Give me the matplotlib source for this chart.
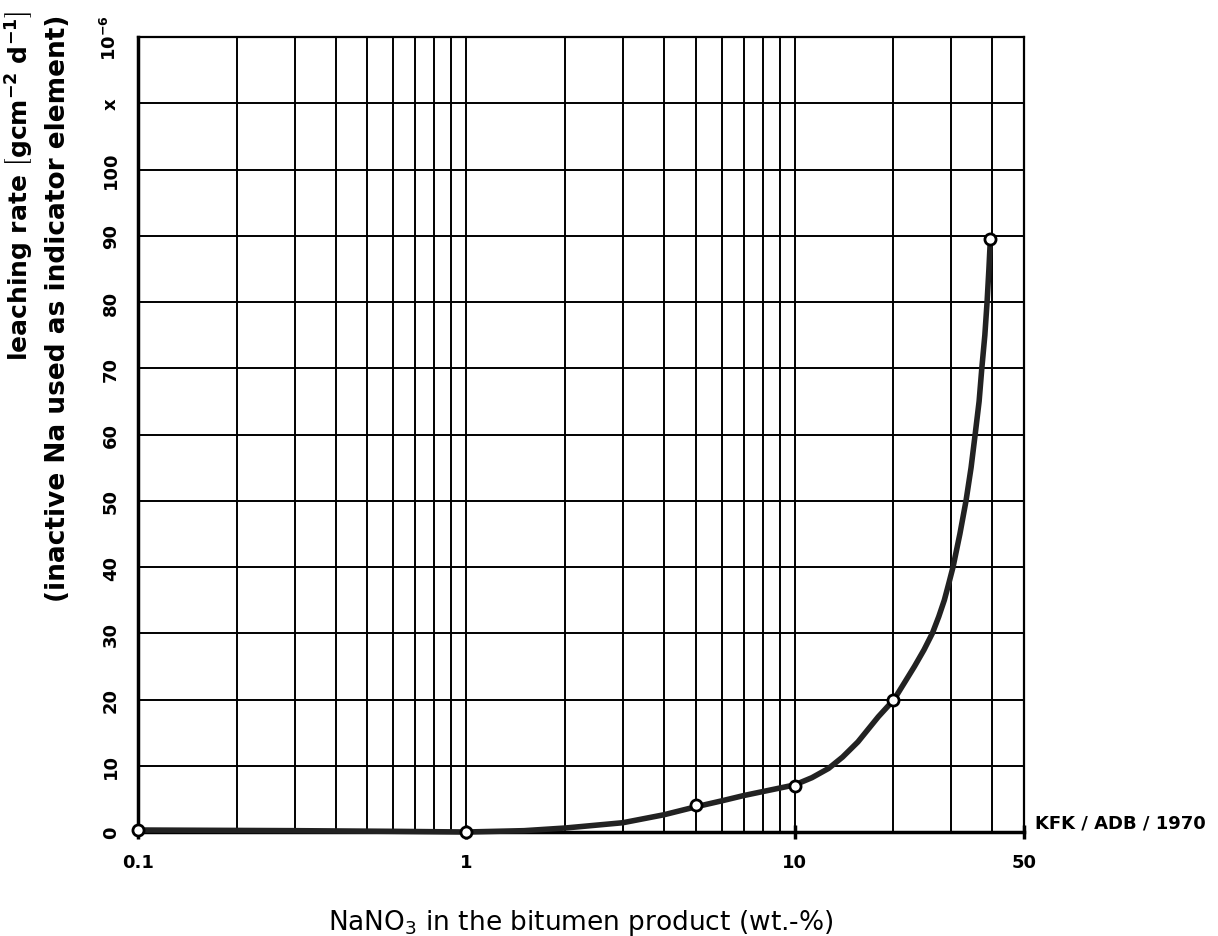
import numpy as np
import matplotlib
matplotlib.use("Agg")
import matplotlib.pyplot as plt

# measured points (wt.-% NaNO3, leaching rate x 1e-6)
nano3 = [0.1, 1, 5, 10, 20, 39.5]
rate = [0.3, 0.0, 4.0, 7.0, 20.0, 89.5]

# drawn curve
curve_x = [0.1, 0.3, 0.6, 1, 1.5, 2, 3, 4, 5, 6, 7, 8, 10, 11.3, 12.7, 14,
           15.6, 18, 20.1, 21.6, 23.2, 24.8, 26.3, 27.5, 28.6, 29.5, 30.4,
           31.9, 33.3, 34.5, 35.5, 36.5, 37.2, 38.0, 38.6, 39.1, 39.5]
curve_y = [0.3, 0.2, 0.1, 0.0, 0.2, 0.6, 1.4, 2.6, 3.8, 4.7, 5.5, 6.1, 7.1,
           8.2, 9.6, 11.3, 13.6, 17.4, 20.0, 22.5, 25.0, 27.5, 30.0, 32.5,
           35.0, 37.5, 40.0, 45.0, 50.0, 55.0, 60.0, 65.0, 70.0, 75.0, 80.0,
           85.0, 89.5]

x_grid = [0.2, 0.3, 0.4, 0.5, 0.6, 0.7, 0.8, 0.9, 1, 2, 3, 4, 5, 6, 7, 8, 9,
          10, 20, 30, 40]
x_ticks = [0.1, 1, 10, 50]
x_labels = ["0.1", "1", "10", "50"]
y_ticks = [0, 10, 20, 30, 40, 50, 60, 70, 80, 90, 100, 110, 120]
y_labels = ["0", "10", "20", "30", "40", "50", "60", "70", "80", "90", "100",
            "x", r"$\mathbf{10^{-6}}$"]

plt.rcParams["font.family"] = "DejaVu Sans"
fig = plt.figure(figsize=(12.18, 9.37), dpi=100)
ax = fig.add_axes([0.1133, 0.111, 0.7274, 0.8484])

ax.set_xscale("log")
ax.set_xlim(0.1, 50)
ax.set_ylim(0, 120)

for xv in x_grid:
    ax.axvline(xv, color="black", lw=1.4, zorder=1)
for yv in y_ticks[1:]:
    ax.axhline(yv, color="black", lw=1.4, zorder=1)

ax.plot(curve_x, curve_y, color="#222222", lw=4, zorder=3, clip_on=False,
        solid_capstyle="round", solid_joinstyle="round")
ax.plot(nano3, rate, "o", ms=8, mfc="white", mec="black", mew=2, zorder=4,
        clip_on=False)

for s in ["left", "bottom"]:
    ax.spines[s].set_linewidth(2.5)
for s in ["right", "top"]:
    ax.spines[s].set_linewidth(1.6)

ax.set_xticks(x_ticks)
ax.set_xticklabels(x_labels, fontsize=13, fontweight="bold")
ax.xaxis.set_minor_locator(matplotlib.ticker.NullLocator())
ax.tick_params(axis="x", length=10, width=2.5, direction="inout", pad=10)

ax.set_yticks(y_ticks)
ax.set_yticklabels(y_labels, fontsize=13, fontweight="bold", rotation=90,
                   va="center")
ax.tick_params(axis="y", length=0, pad=13)

ax.set_xlabel(r"NaNO$_3$ in the bitumen product (wt.-%)", fontsize=19,
              labelpad=26)
fig.text(0.003, 0.988, r"leaching rate $\left[\mathbf{gcm^{-2}\ d^{-1}}\right]$",
         rotation=90, fontsize=18, fontweight="bold", ha="left", va="top")
fig.text(0.037, 0.984, "(inactive Na used as indicator element)",
         rotation=90, fontsize=19, fontweight="bold", ha="left", va="top")

ax.text(1.012, 0.0, "KFK / ADB / 1970", transform=ax.transAxes, fontsize=13,
        fontweight="bold", ha="left", va="bottom")

fig.savefig("out.png", dpi=100)
